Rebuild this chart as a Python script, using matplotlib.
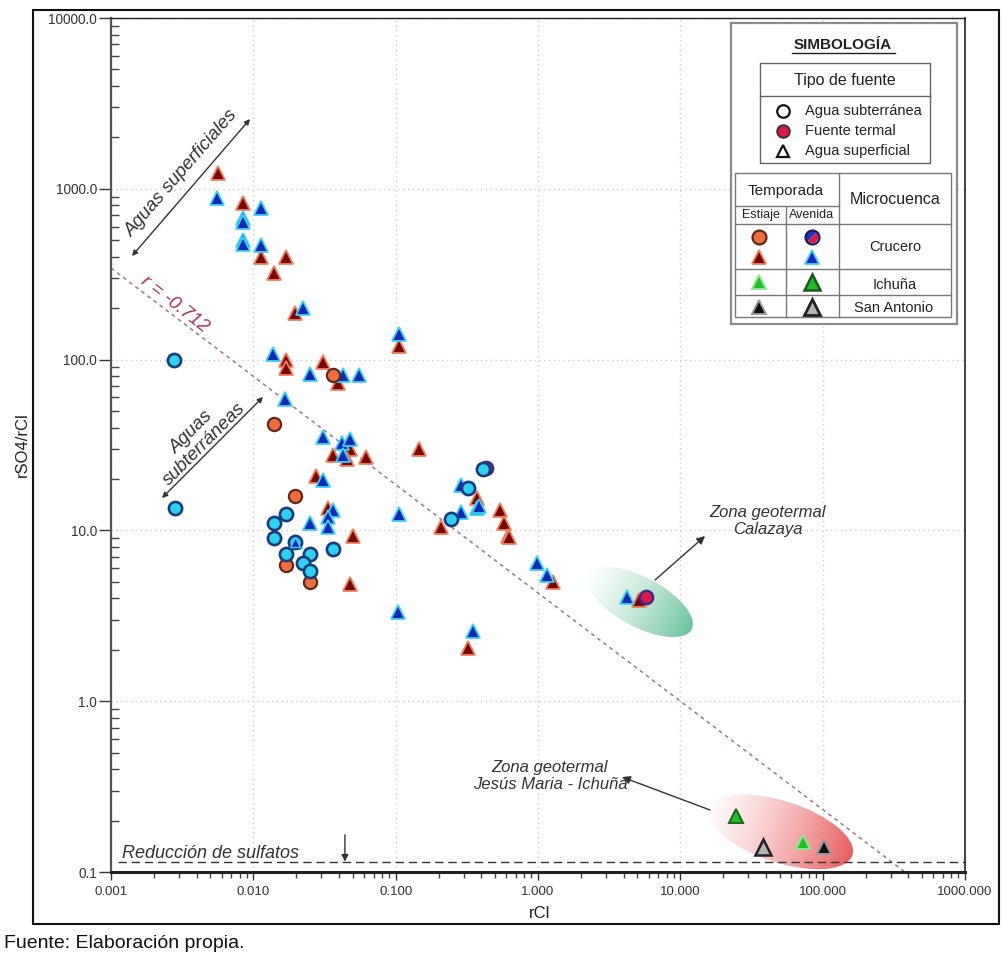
import numpy as np
import matplotlib
matplotlib.use("Agg")
import matplotlib.pyplot as plt
from matplotlib.patches import Ellipse, Rectangle, Wedge
from matplotlib.ticker import LogLocator, NullFormatter

plt.rcParams['font.family'] = ['Liberation Sans', 'DejaVu Sans']

W, H = 1002, 956

# ---- axis ticks ----
x_ticks = [0.001, 0.01, 0.1, 1, 10, 100, 1000]
x_tick_labels = ['0.001', '0.010', '0.100', '1.000', '10.000', '100.000', '1000.000']
y_ticks = [0.1, 1, 10, 100, 1000, 10000]
y_tick_labels = ['0.1', '1.0', '10.0', '100.0', '1000.0', '10000.0']

# ---- Crucero, groundwater (circles) ----
gw_dry_rcl = [0.0363, 0.0140, 0.0196, 0.0170, 0.0252]
gw_dry_ratio = [81.2, 42.0, 15.9, 6.27, 4.99]

gw_wet_rcl = [0.00277, 0.00282, 0.0170, 0.0140, 0.0140, 0.0196, 0.0170, 0.0252,
              0.0223, 0.0252, 0.0363, 0.322, 0.245, 0.411]
gw_wet_ratio = [99.5, 13.6, 12.4, 11.1, 9.03, 8.55, 7.32, 7.32,
                6.44, 5.78, 7.78, 17.7, 11.7, 22.9]

# ---- thermal springs ----
thermal_rcl = [0.431, 5.74]
thermal_ratio = [23.3, 4.07]

# ---- Crucero, surface water (triangles) ----
sw_dry_rcl = [0.00565, 0.00846, 0.0113, 0.0170, 0.0140, 0.0196, 0.105, 0.0170, 0.0170,
              0.0309, 0.0393, 0.0363, 0.0478, 0.0619, 0.0455, 0.145, 0.0276, 0.0335,
              0.0501, 0.0478, 0.208, 0.373, 0.541, 0.577, 0.616, 0.630, 1.275, 0.322, 5.13]
sw_dry_ratio = [1237, 831, 401, 401, 321, 187, 120, 99.5, 89.3,
                96.2, 72.9, 27.8, 29.8, 26.9, 26.2, 29.8, 20.8, 13.6,
                9.27, 4.86, 10.4, 15.5, 13.1, 11.1, 9.27, 9.1, 4.99, 2.05, 3.91]

sw_wet_rcl = [0.00556, 0.0113, 0.00846, 0.00846, 0.00846, 0.00846, 0.0113, 0.0223, 0.106,
              0.0138, 0.0427, 0.0557, 0.0252, 0.0168, 0.0309, 0.0419, 0.0478, 0.0427,
              0.0309, 0.0363, 0.0335, 0.0252, 0.0335, 0.0196, 0.106, 0.104, 0.288, 0.288,
              0.373, 0.385, 0.350, 0.984, 1.157, 4.22]
sw_wet_ratio = [883, 772, 675, 640, 501, 478, 469, 200, 141,
                108, 81, 81, 82, 58.8, 35.2, 32.3, 34.3, 27.8,
                19.6, 13.1, 11.9, 11.1, 10.4, 8.55, 12.4, 3.31, 18.4, 12.8,
                13.6, 13.9, 2.58, 6.44, 5.48, 4.07]

# ---- Ichuña and San Antonio ----
ichuna_dry_rcl, ichuna_dry_ratio = [72.8], [0.150]
ichuna_wet_rcl, ichuna_wet_ratio = [24.6], [0.213]
sanantonio_dry_rcl, sanantonio_dry_ratio = [102.0], [0.140]
sanantonio_wet_rcl, sanantonio_wet_ratio = [38.1], [0.140]

# ---- regression (log10 y = a + b log10 x) and sulfate-reduction threshold ----
reg_slope = -0.634
reg_intercept = 0.634
reg_label = 'r = -0.712'
sulfate_reduction = 0.115
sulfate_arrow_rcl = 0.044

fig = plt.figure(figsize=(W / 100, H / 100), dpi=100)
ax = fig.add_axes([111 / W, 1 - 872 / H, 854 / W, 854 / H])
ax.set_xscale('log')
ax.set_yscale('log')


def glow_ellipse(ax, cx, cy, w, h, ang, light, dark):
    n = 300
    R = w / 2
    xs = np.linspace(cx - R, cx + R, n)
    ys = np.linspace(cy - R, cy + R, n)
    X, Y = np.meshgrid(xs, ys)
    th = np.deg2rad(ang)
    t = ((X - cx) * np.cos(th) + (Y - cy) * np.sin(th)) / R
    s = np.clip((t + 1) / 2, 0, 1) ** 0.8
    rgba = np.zeros((n, n, 4))
    for i in range(3):
        rgba[..., i] = light[i] + (dark[i] - light[i]) * s
    rgba[..., 3] = 0.15 + 0.85 * s
    im = ax.imshow(rgba, extent=[cx - R, cx + R, cy - R, cy + R], origin='lower',
                   transform=ax.transAxes, zorder=1, interpolation='bilinear',
                   aspect='auto')
    ell = Ellipse((cx, cy), w, h, angle=ang, transform=ax.transAxes)
    im.set_clip_path(ell)


# geothermal zones
glow_ellipse(ax, 0.6194, 0.3162, 0.137, 0.058, -28,
             (0.93, 0.98, 0.95), (0.42, 0.77, 0.62))
glow_ellipse(ax, 0.7845, 0.0470, 0.176, 0.072, -18,
             (0.99, 0.90, 0.90), (0.91, 0.36, 0.36))

# regression line
rx = np.array([1e-3, 1e3])
ry = 10 ** (reg_intercept + reg_slope * np.log10(rx))
ax.plot(rx, ry, color='#a07880', lw=1.1, ls=(0, (2.5, 2.5)), zorder=2)

# sulfate reduction threshold
ax.axhline(sulfate_reduction, xmin=0.008, xmax=1, color='#333333', lw=1,
           ls=(0, (6, 3.5)), zorder=2)

# points
tri_ms = 9.5
dry_tri = dict(mfc='#7a0606', mec='#f0805c', mew=1.3)
wet_tri = dict(mfc='#1228b8', mec='#38d4f6', mew=1.3)
ax.plot(sw_dry_rcl, sw_dry_ratio, ls='none', marker='^', ms=tri_ms, zorder=4, **dry_tri)
ax.plot(sw_wet_rcl, sw_wet_ratio, ls='none', marker='^', ms=tri_ms, zorder=5, **wet_tri)
ax.plot(thermal_rcl, thermal_ratio, ls='none', marker='o', ms=9.5,
        mfc='#e0184a', mec='#3a2a8a', mew=1.8, zorder=6)
ax.plot(gw_dry_rcl, gw_dry_ratio, ls='none', marker='o', ms=9.5,
        mfc='#f26b3a', mec='#5a2a1a', mew=1.6, zorder=6)
ax.plot(gw_wet_rcl, gw_wet_ratio, ls='none', marker='o', ms=9.5,
        mfc='#2ad4f0', mec='#1a3a80', mew=1.9, zorder=6)
# a wet-season triangle that sits on a groundwater circle
ax.plot([sw_wet_rcl[23]], [sw_wet_ratio[23]], ls='none', marker='^', ms=7,
        mfc='#1228b8', mec='#38d4f6', mew=1.0, zorder=7)
ax.plot(ichuna_dry_rcl, ichuna_dry_ratio, ls='none', marker='^', ms=tri_ms,
        mfc='#1ec02a', mec='#8fe68f', mew=1.4, zorder=6)
ax.plot(ichuna_wet_rcl, ichuna_wet_ratio, ls='none', marker='^', ms=10,
        mfc='#1ec02a', mec='#1a6a1a', mew=1.5, zorder=6)
ax.plot(sanantonio_dry_rcl, sanantonio_dry_ratio, ls='none', marker='^', ms=tri_ms,
        mfc='#111111', mec='#9a9a9a', mew=1.4, zorder=6)
ax.plot(sanantonio_wet_rcl, sanantonio_wet_ratio, ls='none', marker='^', ms=11,
        mfc='#b4b4b4', mec='#222222', mew=1.8, zorder=6)

# axes styling
ax.set_xlim(1e-3, 1e3)
ax.set_ylim(0.1, 1e4)
ax.set_xticks(x_ticks)
ax.set_xticklabels(x_tick_labels)
ax.set_yticks(y_ticks)
ax.set_yticklabels(y_tick_labels)
ax.xaxis.set_minor_locator(LogLocator(base=10, subs=np.arange(2, 10)))
ax.yaxis.set_minor_locator(LogLocator(base=10, subs=np.arange(2, 10)))
ax.xaxis.set_minor_formatter(NullFormatter())
ax.yaxis.set_minor_formatter(NullFormatter())
ax.tick_params(axis='y', which='major', direction='out', length=9, width=1,
               pad=1, labelsize=9.8, colors='#333333')
ax.tick_params(axis='y', which='minor', direction='in', length=6, width=1, colors='#444444')
ax.tick_params(axis='x', which='major', direction='out', length=6, width=1,
               pad=4, labelsize=9.5, colors='#333333')
ax.tick_params(axis='x', which='minor', direction='out', length=4, width=1, colors='#444444')
ax.grid(True, which='major', color='#cccccc', lw=1, ls=(0, (1, 2.5)), zorder=0)
ax.set_axisbelow(True)
for side, (lw, col) in {'left': (1.6, '#555555'), 'bottom': (2.2, '#222222'),
                        'top': (1.0, '#222222'), 'right': (1.2, '#222222')}.items():
    ax.spines[side].set_linewidth(lw)
    ax.spines[side].set_color(col)

# annotations
ital = dict(style='italic', color='#333333')
ax.annotate('', xy=(0.0246, 0.7213), xytext=(0.1628, 0.8817), xycoords='axes fraction',
            arrowprops=dict(arrowstyle='<|-|>', color='#333333', lw=1,
                            mutation_scale=8, shrinkA=0, shrinkB=0))
ax.text(0.0831, 0.8185, 'Aguas superficiales', transform=ax.transAxes, rotation=49,
        ha='center', va='center', fontsize=13.5, rotation_mode='anchor', **ital)
ax.annotate('', xy=(0.0597, 0.4379), xytext=(0.178, 0.5562), xycoords='axes fraction',
            arrowprops=dict(arrowstyle='<|-|>', color='#333333', lw=1,
                            mutation_scale=8, shrinkA=0, shrinkB=0))
ax.text(0.1019, 0.5082, 'Aguas\nsubterráneas', transform=ax.transAxes, rotation=45,
        ha='center', va='center', fontsize=13.5, rotation_mode='anchor',
        multialignment='center', linespacing=1.0, **ital)
ax.text(0.0749, 0.6651, reg_label, transform=ax.transAxes, rotation=-38,
        ha='center', va='center', fontsize=13.5, rotation_mode='anchor',
        style='italic', color='#a83050')

ax.annotate('', xy=(0.6956, 0.3934), xytext=(0.637, 0.3419), xycoords='axes fraction',
            arrowprops=dict(arrowstyle='-|>', color='#333333', lw=1,
                            mutation_scale=12, shrinkA=0, shrinkB=0))
ax.text(0.7693, 0.4110, 'Zona geotermal\nCalazaya', transform=ax.transAxes,
        ha='center', va='center', fontsize=12, linespacing=1.1, **ital)
ax.annotate('', xy=(0.5984, 0.1112), xytext=(0.7014, 0.0726), xycoords='axes fraction',
            arrowprops=dict(arrowstyle='-|>', color='#333333', lw=1,
                            mutation_scale=12, shrinkA=0, shrinkB=0))
ax.text(0.514, 0.1124, 'Zona geotermal\nJesús Maria - Ichuña', transform=ax.transAxes,
        ha='center', va='center', fontsize=12, linespacing=1.1, **ital)

ax.text(0.0129, 0.0165, 'Reducción de sulfatos', transform=ax.transAxes,
        ha='left', va='baseline', fontsize=13, **ital)
ax.annotate('', xy=(sulfate_arrow_rcl, sulfate_reduction),
            xytext=(sulfate_arrow_rcl, 0.165), xycoords='data',
            arrowprops=dict(arrowstyle='-|>', color='#333333', lw=1,
                            mutation_scale=10, shrinkA=0, shrinkB=0))

ax.set_xlim(1e-3, 1e3)
ax.set_ylim(0.1, 1e4)

# axis titles and source note
fig.text(540 / W, 1 - 913 / H, 'rCl', ha='center', va='center', fontsize=12,
         color='#222222')
fig.text(22 / W, 1 - 445 / H, 'rSO4/rCl', ha='center', va='center', fontsize=12,
         rotation=90, color='#222222')
fig.text(4 / W, 1 - 943 / H, 'Fuente: Elaboración propia.', ha='left', va='center',
         fontsize=14, color='#111111')
fig.add_artist(Rectangle((33 / W, 1 - 924 / H), (999 - 33) / W, (924 - 10) / H,
                         transform=fig.transFigure, fill=False, lw=1.5,
                         edgecolor='#111111'))

# ---- legend panel (pixel units) ----
lx0, lx1, ly0, ly1 = 727, 961, 16, 328
lax = fig.add_axes([lx0 / W, 1 - ly1 / H, (lx1 - lx0) / W, (ly1 - ly0) / H], zorder=10)
lax.set_xlim(lx0, lx1)
lax.set_ylim(ly1, ly0)
lax.axis('off')
lax.add_patch(Rectangle((731, 23), 226, 301, facecolor='white', edgecolor='#8a8a8a', lw=1.6))
lax.text(843, 45, 'SIMBOLOGÍA', ha='center', va='center', fontsize=11, weight='bold',
         color='#222222')
lax.plot([792, 895], [53, 53], color='#222222', lw=1)

lax.add_patch(Rectangle((760, 63), 170, 100, fill=False, edgecolor='#666666', lw=1))
lax.plot([760, 930], [96, 96], color='#666666', lw=1)
lax.text(845, 81, 'Tipo de fuente', ha='center', va='center', fontsize=11.5, color='#222222')
lax.plot(783, 111, marker='o', ms=9, mfc='white', mec='#111111', mew=1.6)
lax.plot(783, 131, marker='o', ms=9, mfc='#e0184a', mec='#333333', mew=1.4)
lax.plot(783, 151, marker='^', ms=9, mfc='white', mec='#111111', mew=1.6)
for yy, lab in [(111, 'Agua subterránea'), (131, 'Fuente termal'), (151, 'Agua superficial')]:
    lax.text(805, yy, lab, ha='left', va='center', fontsize=10.5, color='#222222')

gray = '#777777'
lax.add_patch(Rectangle((735, 173), 216, 144, fill=False, edgecolor=gray, lw=1))
lax.plot([735, 839], [206, 206], color=gray, lw=1)
for yy in (224, 269, 295):
    lax.plot([735, 951], [yy, yy], color=gray, lw=1)
lax.plot([839, 839], [173, 317], color=gray, lw=1)
lax.plot([786, 786], [206, 317], color=gray, lw=1)
lax.text(786, 191, 'Temporada', ha='center', va='center', fontsize=11, color='#222222')
lax.text(895, 199, 'Microcuenca', ha='center', va='center', fontsize=11.5, color='#222222')
lax.text(761, 215, 'Estiaje', ha='center', va='center', fontsize=9, color='#222222')
lax.text(812, 215, 'Avenida', ha='center', va='center', fontsize=9, color='#222222')
lax.text(895, 247, 'Crucero', ha='center', va='center', fontsize=10.5, color='#222222')
lax.text(895, 285, 'Ichuña', ha='center', va='center', fontsize=10.5, color='#222222')
lax.text(894, 308, 'San Antonio', ha='center', va='center', fontsize=10.5, color='#222222')

lax.plot(759, 237, marker='o', ms=10, mfc='#f26b3a', mec='#5a2a1a', mew=1.6)
lax.plot(759, 257, marker='^', ms=9.5, **dry_tri)
lax.add_patch(Wedge((812, 237), 6.3, 135, 315, facecolor='#2035c8', edgecolor='none'))
lax.add_patch(Wedge((812, 237), 6.3, 315, 495, facecolor='#e0184a', edgecolor='none'))
lax.plot(812, 237, marker='o', ms=10, mfc='none', mec='#1a1a60', mew=1.6)
lax.plot(812, 257, marker='^', ms=9.5, **wet_tri)
lax.plot(759, 282, marker='^', ms=10, mfc='#1ec02a', mec='#8fe68f', mew=1.4)
lax.plot(812, 282, marker='^', ms=11, mfc='#1ec02a', mec='#1a5a1a', mew=1.8)
lax.plot(759, 307, marker='^', ms=10, mfc='#111111', mec='#9a9a9a', mew=1.4)
lax.plot(812, 307, marker='^', ms=12, mfc='#b4b4b4', mec='#222222', mew=2)

fig.savefig('out.png', dpi=100)
